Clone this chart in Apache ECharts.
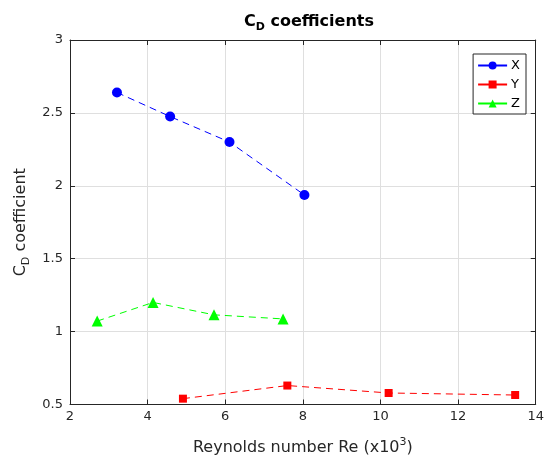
<!DOCTYPE html>
<html>
<head>
<meta charset="utf-8">
<script src="https://cdn.jsdelivr.net/npm/echarts@6/dist/echarts.min.js"></script>
<style>
  html, body { margin: 0; padding: 0; background: #fff; }
  #chart { width: 547px; height: 463px; }
</style>
</head>
<body>
<div id="chart"></div>
<script>
// values
const reX = [3.21, 4.58, 6.11, 8.04];
const cdX = [2.64, 2.475, 2.30, 1.937];

const reY = [4.91, 7.60, 10.21, 13.47];
const cdY = [0.54, 0.63, 0.579, 0.565];

const reZ = [2.70, 4.14, 5.71, 7.49];
const cdZ = [1.072, 1.20, 1.115, 1.087];

const seriesNames = ["X", "Y", "Z"];
const seriesColors = ["#0000ff", "#ff0000", "#00ff00"];

const pairs = (xs, ys) => xs.map((x, i) => [x, ys[i]]);

const chart = echarts.init(document.getElementById("chart"), null, { renderer: "canvas" });

const fontFamily = "DejaVu Sans";
const axisColor = "#262626";

// MATLAB-style box: ticks inside on all four sides
const baseTicks = {
  axisLine: { show: true, onZero: false, lineStyle: { color: axisColor, width: 1 } },
  axisTick: { show: true, inside: true, length: 5, lineStyle: { color: axisColor } },
};

const option = {
  backgroundColor: "#fff",
  animation: false,
  title: {
    text: "{a|C}{sub|D}{a| coefficients}",
    left: 304,
    textAlign: "center",
    top: 6,
    textStyle: {
      rich: {
        a: { fontFamily, fontSize: 16, fontWeight: "bold", color: "#000", lineHeight: 22 },
        sub: { fontFamily, fontSize: 11, fontWeight: "bold", color: "#000", lineHeight: 22, padding: [11, 0, 0, 0] },
      },
    },
  },
  legend: {
    right: 21,
    top: 54,
    orient: "vertical",
    itemWidth: 29,
    itemHeight: 10,
    itemGap: 6,
    padding: [5, 6, 4, 4],
    borderColor: "#262626",
    borderWidth: 1,
    backgroundColor: "#fff",
    lineStyle: { type: "solid" },
    textStyle: { fontFamily, fontSize: 13, color: "#000", padding: [0, 0, 0, -1] },
    data: seriesNames,
  },
  grid: { left: 70, right: 7, top: 40, bottom: 53 },
  xAxis: [
    {
      type: "value",
      min: 2,
      max: 14,
      interval: 2,
      ...baseTicks,
      axisLabel: { fontFamily, fontSize: 13, color: axisColor, margin: 6 },
      splitLine: { show: true, lineStyle: { color: "#dfdfdf", width: 1 } },
      name: "{a|Reynolds number Re (x10}{sup|3}{a|)}",
      nameLocation: "middle",
      nameGap: 32,
      nameTextStyle: {
        rich: {
          a: { fontFamily, fontSize: 16, color: axisColor, lineHeight: 22 },
          sup: { fontFamily, fontSize: 11, color: axisColor, lineHeight: 22, padding: [0, 0, 10, 0] },
        },
      },
    },
    {
      type: "value",
      position: "top",
      min: 2,
      max: 14,
      interval: 2,
      ...baseTicks,
      axisLabel: { show: false },
      splitLine: { show: false },
    },
  ],
  yAxis: [
    {
      type: "value",
      min: 0.5,
      max: 3,
      interval: 0.5,
      ...baseTicks,
      axisLabel: { fontFamily, fontSize: 13, color: axisColor, margin: 7 },
      splitLine: { show: true, lineStyle: { color: "#dfdfdf", width: 1 } },
      name: "{a|C}{sub|D}{a| coefficient}",
      nameLocation: "middle",
      nameRotate: 90,
      nameGap: 38,
      nameTextStyle: {
        rich: {
          a: { fontFamily, fontSize: 16, color: axisColor, lineHeight: 22 },
          sub: { fontFamily, fontSize: 11, color: axisColor, lineHeight: 22, padding: [11, 0, 0, 0] },
        },
      },
    },
    {
      type: "value",
      position: "right",
      min: 0.5,
      max: 3,
      interval: 0.5,
      ...baseTicks,
      axisLabel: { show: false },
      splitLine: { show: false },
    },
  ],
  series: [
    {
      name: "X",
      type: "line",
      data: pairs(reX, cdX),
      symbol: "circle",
      symbolSize: 10,
      itemStyle: { color: seriesColors[0] },
      lineStyle: { color: seriesColors[0], width: 1, type: [7, 5] },
    },
    {
      name: "Y",
      type: "line",
      data: pairs(reY, cdY),
      symbol: "rect",
      symbolSize: 8,
      itemStyle: { color: seriesColors[1] },
      lineStyle: { color: seriesColors[1], width: 1, type: [7, 5] },
    },
    {
      name: "Z",
      type: "line",
      data: pairs(reZ, cdZ),
      symbol: "triangle",
      symbolSize: 11,
      itemStyle: { color: seriesColors[2] },
      lineStyle: { color: seriesColors[2], width: 1, type: [7, 5] },
    },
  ],
};

chart.setOption(option);
</script>
</body>
</html>
